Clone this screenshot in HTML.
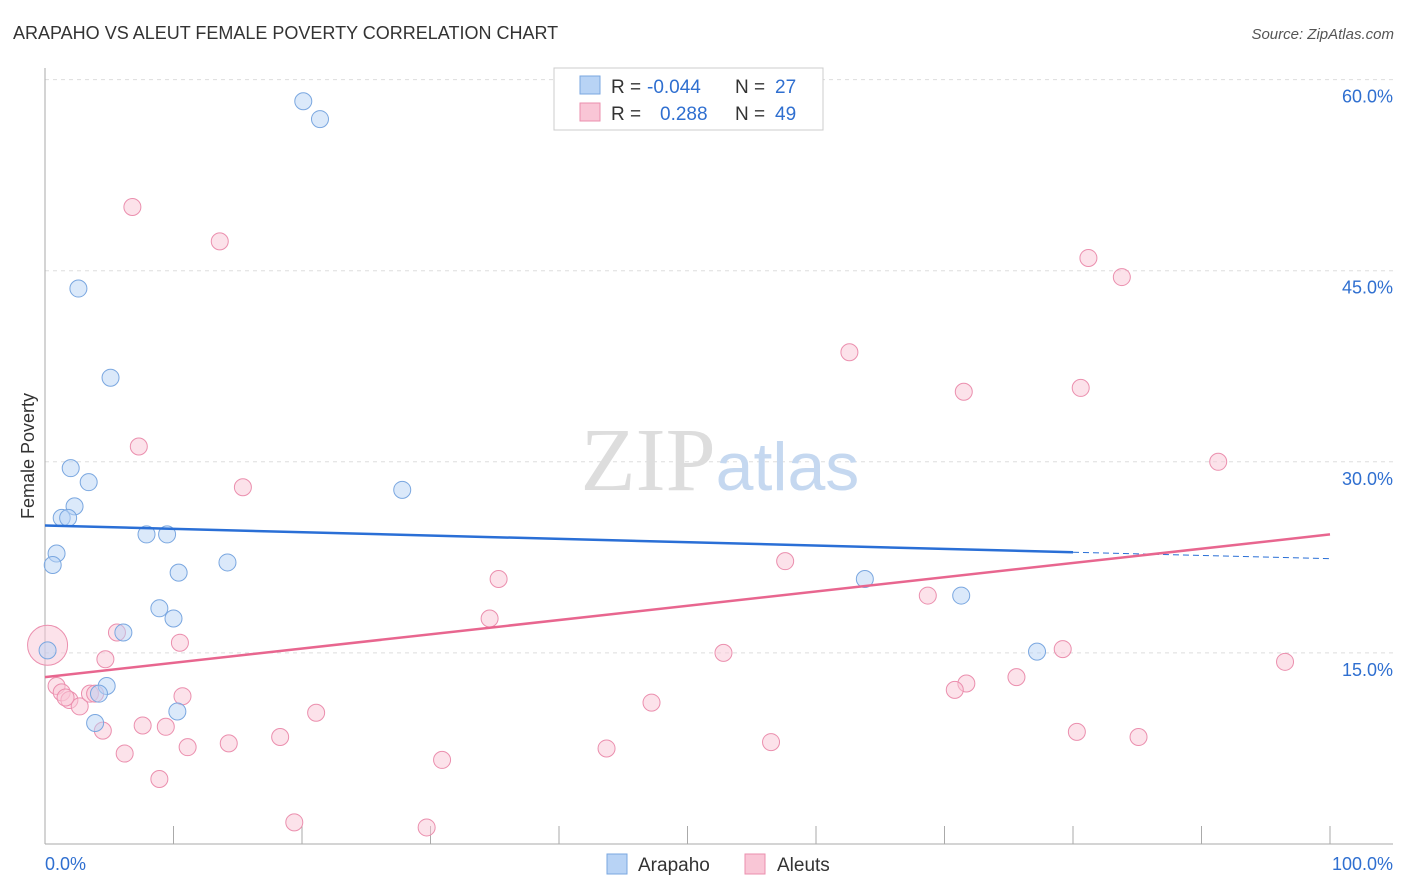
<!DOCTYPE html>
<html><head><meta charset="utf-8"><style>
body{margin:0;background:#fff;font-family:"Liberation Sans",sans-serif;}
svg{display:block}
</style></head><body>
<svg id="chart" width="1406" height="892">
<text x="13" y="39" font-size="18" fill="#333">ARAPAHO VS ALEUT FEMALE POVERTY CORRELATION CHART</text>
<text x="1394" y="39" font-size="15" fill="#555" text-anchor="end" font-style="italic">Source: ZipAtlas.com</text>
<text x="34" y="456" font-size="18" fill="#333" text-anchor="middle" transform="rotate(-90 34 456)">Female Poverty</text>
<g id="grid"></g>
<g id="axes"></g>
<text x="720" y="490" font-size="90" fill="#ddd" text-anchor="middle" font-family="Liberation Serif,serif">ZIP<tspan fill="#c5d8f0" font-family="Liberation Sans,sans-serif" font-size="68">atlas</tspan></text>
<g id="marks"></g>
<g>
<rect x="554" y="68" width="269" height="62" fill="#fff" stroke="#ccc"/>
<rect x="580" y="76" width="20" height="18" fill="#b8d3f5" stroke="#7aa7e0"/>
<rect x="580" y="103" width="20" height="18" fill="#f9c6d6" stroke="#eb8fae"/>
<text x="611" y="93" font-size="19" fill="#333">R = <tspan x="647" fill="#2f6fd0">-0.044</tspan><tspan x="735">N = </tspan><tspan x="775" fill="#2f6fd0">27</tspan></text>
<text x="611" y="120" font-size="19" fill="#333">R = <tspan x="660" fill="#2f6fd0">0.288</tspan><tspan x="735">N = </tspan><tspan x="775" fill="#2f6fd0">49</tspan></text>
</g>
<g>
<rect x="607" y="854" width="20" height="20" fill="#b8d3f5" stroke="#7aa7e0"/>
<text x="638" y="871" font-size="19" fill="#333">Arapaho</text>
<rect x="745" y="854" width="20" height="20" fill="#f9c6d6" stroke="#eb8fae"/>
<text x="777" y="871" font-size="19" fill="#333">Aleuts</text>
</g>
</svg>
<script>
const yTicks=[15,30,45,60];
const yTickLabels=["15.0%","30.0%","45.0%","60.0%"];
const xTickLabels=["0.0%","100.0%"];
const arapahoX=[20.1,21.4,2.6,5.1,2.0,3.4,2.3,1.3,1.8,0.9,0.6,7.9,9.5,10.4,14.2,8.9,10.0,6.1,0.2,4.8,4.2,3.9,10.3,27.8,63.8,71.3,77.2];
const arapahoY=[58.3,56.9,43.6,36.6,29.5,28.4,26.5,25.6,25.6,22.8,21.9,24.3,24.3,21.3,22.1,18.5,17.7,16.6,15.2,12.4,11.8,9.5,10.4,27.8,20.8,19.5,15.1];
const aleutX=[6.8,13.6,7.3,15.4,81.2,83.8,62.6,71.5,80.6,91.3,57.6,35.3,34.6,68.7,5.6,10.5,4.7,52.8,79.2,96.5,0.9,1.3,1.9,2.7,3.5,3.9,10.7,71.7,70.8,75.6,47.2,21.1,4.5,7.6,9.4,6.2,11.1,14.3,18.3,43.7,56.5,80.3,85.1,30.9,8.9,19.4,29.7,1.6,0.2];
const aleutY=[50.0,47.3,31.2,28.0,46.0,44.5,38.6,35.5,35.8,30.0,22.2,20.8,17.7,19.5,16.6,15.8,14.5,15.0,15.3,14.3,12.4,11.9,11.3,10.8,11.8,11.8,11.6,12.6,12.1,13.1,11.1,10.3,8.9,9.3,9.2,7.1,7.6,7.9,8.4,7.5,8.0,8.8,8.4,6.6,5.1,1.7,1.3,11.5,15.6];
const arapahoTrend=[25.0,22.9,22.4]; // at x=0, 80, 100
const aleutTrend=[13.1,24.3]; // at x=0, 100
const NS="http://www.w3.org/2000/svg";
const X=v=>45+v*12.85, Y=v=>844-v*12.74;
function mk(tag,attrs,parent){const e=document.createElementNS(NS,tag);for(const k in attrs)e.setAttribute(k,attrs[k]);parent.appendChild(e);return e;}
const grid=document.getElementById('grid'),axes=document.getElementById('axes'),marks=document.getElementById('marks');
yTicks.forEach((t,i)=>{
  const l=mk('line',{x1:45,x2:1393,y1:Y(t),y2:Y(t),stroke:'#ddd','stroke-dasharray':'4 4'},grid);
  
  
  const tx=mk('text',{x:1393,y:Y(t)+23,'font-size':18,fill:'#2f6fd0','text-anchor':'end'},grid);
  tx.textContent=yTickLabels[i];
  
  
});
mk('line',{x1:45,x2:45,y1:68,y2:844,stroke:'#aaa'},axes);
mk('line',{x1:45,x2:1393,y1:844,y2:844,stroke:'#aaa'},axes);
for(let i=0;i<=10;i++){const l=mk('line',{x1:X(i*10),x2:X(i*10),y1:826,y2:844,stroke:'#aaa'},axes);
  
  }
const xl0=mk('text',{x:45,y:870,'font-size':18,fill:'#2f6fd0'},axes);xl0.textContent=xTickLabels[0];


const xl1=mk('text',{x:1393,y:870,'font-size':18,fill:'#2f6fd0','text-anchor':'end'},axes);xl1.textContent=xTickLabels[1];


aleutX.forEach((x,i)=>{const c=mk('circle',{cx:X(x),cy:Y(aleutY[i]),r:i==aleutX.length-1?20:8.5,fill:'#f9c6d6','fill-opacity':0.5,stroke:'#eb8fae','stroke-width':1},marks);
  
  });
arapahoX.forEach((x,i)=>{const c=mk('circle',{cx:X(x),cy:Y(arapahoY[i]),r:8.5,fill:'#b8d3f5','fill-opacity':0.5,stroke:'#7aa7e0','stroke-width':1},marks);
  
  });
const t1=mk('line',{x1:X(0),y1:Y(arapahoTrend[0]),x2:X(80),y2:Y(arapahoTrend[1]),stroke:'#2a6fd6','stroke-width':2.5},marks);


const t2=mk('line',{x1:X(80),y1:Y(arapahoTrend[1]),x2:X(100),y2:Y(arapahoTrend[2]),stroke:'#2a6fd6','stroke-width':1,'stroke-dasharray':'6 4'},marks);


const t3=mk('line',{x1:X(0),y1:Y(aleutTrend[0]),x2:X(100),y2:Y(aleutTrend[1]),stroke:'#e8668f','stroke-width':2.5},marks);


</script>
</body></html>
